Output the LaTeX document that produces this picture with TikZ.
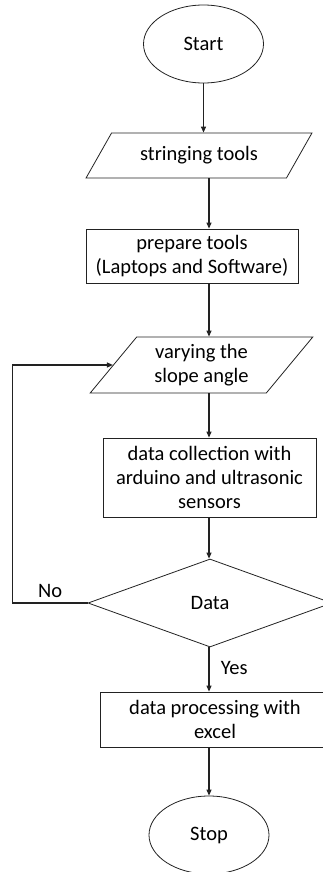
\documentclass[tikz,border=0pt]{standalone}
\usepackage{fontspec}
\setmainfont{Carlito}
\usetikzlibrary{shapes.geometric,arrows.meta}
\definecolor{ink}{HTML}{222222}

\begin{document}
\begin{tikzpicture}[x=1pt,y=-1pt,font=\fontsize{20.5}{24}\selectfont]
\useasboundingbox (0,0) rectangle (322,872);
\coordinate (col) at (209,0);

\begin{scope}[line width=0.8pt,ink,every node/.style={draw,align=center,inner sep=0pt,text=black}]
% Start and stop:
\node [ellipse,minimum width=120pt,minimum height=78pt] (start) at (203.5,44) {Start};
\node [ellipse,minimum width=120pt,minimum height=78pt] (stop) at (209,835) {Stop};

% Input steps:
\node [trapezium,trapezium left angle=46,trapezium right angle=134,trapezium stretches=true,
       minimum width=226pt,minimum height=45pt] (tools) at (199,155.5) {stringing tools};
\node [trapezium,trapezium left angle=51,trapezium right angle=129,trapezium stretches=true,
       minimum width=223pt,minimum height=56pt] (slope) at (201.5,365) {varying the\\slope angle};

% Process steps:
\node [rectangle,minimum width=212pt,minimum height=54pt] (prepare) at (192,256) {prepare tools\\(Laptops and Software)};
\node [rectangle,minimum width=213pt,minimum height=79pt] (collect) at (209.5,477.5) {data collection with\\arduino and ultrasonic\\sensors};
\node [rectangle,minimum width=230pt,minimum height=55pt] (excel) at (215,719.5) {data processing with\\excel};

% Decision:
\node [diamond,minimum width=244pt,minimum height=88pt] (data) at (210,603) {Data};
\end{scope}

% Lines connecting the steps
\begin{scope}[line width=1.1pt,ink,every path/.style={draw,-{Triangle[length=6pt,width=5pt]}}]
\path (start.south) -- (start.south |- tools.north);
\path (tools.south -| col) -- (prepare.north -| col);
\path (prepare.south -| col) -- (slope.north -| col);
\path (slope.south -| col) -- (collect.north -| col);
\path (collect.south -| col) -- (data.north -| col);
\path (data.south -| col) -- node [right,xshift=8pt,yshift=2pt,text=black] (yes) {Yes} (excel.north -| col);
\path (excel.south -| col) -- (stop.north -| col);
\path (data.west) -- node [above,yshift=1pt,text=black] (no) {No} ++(-75,0) |- (slope);
\end{scope}
\end{tikzpicture}
\end{document}
